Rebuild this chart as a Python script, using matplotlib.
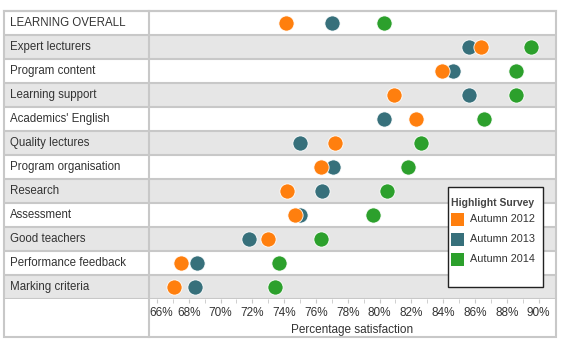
import matplotlib.pyplot as plt
import matplotlib.transforms as mtransforms
from matplotlib.patches import Rectangle
from matplotlib.lines import Line2D

categories = ['LEARNING OVERALL', 'Expert lecturers', 'Program content', 'Learning support',
              "Academics' English", 'Quality lectures', 'Program organisation', 'Research',
              'Assessment', 'Good teachers', 'Performance feedback', 'Marking criteria']
autumn_2012 = [74.1, 86.4, 83.9, 80.9, 82.3, 77.2, 76.3, 74.2, 74.7, 73.0, 67.5, 67.1]
autumn_2013 = [77.0, 85.6, 84.6, 85.6, 80.3, 75.0, 77.1, 76.4, 75.0, 71.8, 68.5, 68.4]
autumn_2014 = [80.3, 89.5, 88.6, 88.6, 86.6, 82.6, 81.8, 80.5, 79.6, 76.3, 73.7, 73.4]
series_names = ['Autumn 2012', 'Autumn 2013', 'Autumn 2014']
colors = ['#FF7F0E', '#37707B', '#2CA02C']
tick_values = list(range(66, 91, 2))

W, H = 562, 347
plt.rcParams['font.family'] = ['Liberation Sans', 'DejaVu Sans']
fig = plt.figure(figsize=(W / 100, H / 100), dpi=100)
txt = '#333333'
grid = '#C8C8C8'
band = '#E6E6E6'


def box(x0, y0, x1, y1):
    return [x0 / W, 1 - y1 / H, (x1 - x0) / W, (y1 - y0) / H]


left, right, top, bottom, outer_bottom = 4, 556, 11, 299, 337
split = 149
n = len(categories)

ax = fig.add_axes(box(split, top, right, bottom))
lax = fig.add_axes(box(left, top, split, bottom), sharey=ax)

for a in (ax, lax):
    for i in range(n):
        if i % 2 == 1:
            a.axhspan(i - 0.5, i + 0.5, color=band, lw=0, zorder=0)
        a.axhline(i + 0.5, color=grid, lw=1.5, zorder=1)
    for s in a.spines.values():
        s.set_visible(False)

ax.set_ylim(n - 0.5, -0.5)
ax.set_xlim(65.5, 91.1)
ypos = list(range(n))
for vals, c, z in zip([autumn_2013, autumn_2012, autumn_2014], [colors[1], colors[0], colors[2]], [3, 4, 5]):
    ax.scatter(vals, ypos, s=120, color=c, edgecolor='white', linewidth=0.6, zorder=z)

ax.set_yticks([])
ax.set_xticks(tick_values)
ax.set_xticklabels([f'{v}%' for v in tick_values], fontsize=8.5, color=txt)
ax.set_xticks(range(66, 91), minor=True)
ax.tick_params(axis='x', which='both', length=3, color=grid, pad=3)
ax.set_xlabel('Percentage satisfaction', fontsize=8.5, color=txt, labelpad=3)
first = ax.get_xticklabels()[0]
first.set_transform(first.get_transform() + mtransforms.ScaledTranslation(4 / 100, 0, fig.dpi_scale_trans))

lax.set_xlim(0, 1)
lax.set_xticks([])
lax.tick_params(left=False, labelleft=False)
for i, cat in enumerate(categories):
    lax.text(0.04, i, cat, va='center', ha='left', fontsize=8.3, color=txt)

# table frame
fig.add_artist(Rectangle((left / W, 1 - outer_bottom / H), (right - left) / W, (outer_bottom - top) / H,
                         transform=fig.transFigure, fill=False, edgecolor=grid, lw=1.5))
fig.add_artist(Line2D([split / W, split / W], [1 - top / H, 1 - outer_bottom / H],
                      transform=fig.transFigure, color=grid, lw=1.5))
fig.add_artist(Line2D([left / W, right / W], [1 - top / H, 1 - top / H],
                      transform=fig.transFigure, color=grid, lw=1.5))

# legend
fig.add_artist(Rectangle((448 / W, 1 - 287 / H), 95 / W, 100 / H, transform=fig.transFigure,
                         facecolor='white', edgecolor='#222222', lw=1, zorder=10))
fig.text(451 / W, 1 - 203 / H, 'Highlight Survey', fontsize=7.5, fontweight='bold', color='#444444',
         va='center', ha='left', zorder=11)
for k, (name, c) in enumerate(zip(series_names, colors)):
    yc = 219.5 + 20 * k
    fig.add_artist(Rectangle((451 / W, 1 - (yc + 6.5) / H), 13 / W, 13 / H, transform=fig.transFigure,
                             facecolor=c, edgecolor='none', zorder=11))
    fig.text(470 / W, 1 - yc / H, name, fontsize=7.8, color=txt, va='center', ha='left', zorder=11)

fig.savefig('out.png', dpi=100)
